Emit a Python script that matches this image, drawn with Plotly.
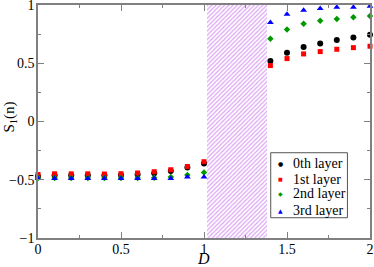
import plotly.graph_objects as go

x_left = [0.0, 0.1, 0.2, 0.3, 0.4, 0.5, 0.6, 0.7, 0.8, 0.9, 1.0]
x_right = [1.4, 1.5, 1.6, 1.7, 1.8, 1.9, 2.0]

layer0_left = [-0.47, -0.462, -0.462, -0.462, -0.462, -0.46, -0.455, -0.445, -0.425, -0.395, -0.36]
layer1_left = [-0.455, -0.449, -0.449, -0.449, -0.451, -0.448, -0.442, -0.431, -0.414, -0.386, -0.345]
layer2_left = [-0.485, -0.485, -0.485, -0.485, -0.485, -0.485, -0.484, -0.482, -0.476, -0.459, -0.437]
layer3_left = [-0.49, -0.49, -0.49, -0.49, -0.49, -0.49, -0.49, -0.49, -0.49, -0.476, -0.476]

layer0_right = [0.52, 0.59, 0.64, 0.67, 0.70, 0.72, 0.745]
layer1_right = [0.48, 0.54, 0.58, 0.60, 0.62, 0.634, 0.646]
layer2_right = [0.71, 0.79, 0.84, 0.865, 0.88, 0.895, 0.905]
layer3_right = [0.85, 0.92, 0.955, 0.97, 0.98, 0.98, 0.99]

names = ["0th layer", "1st layer", "2nd layer", "3rd layer"]
colors = ["#000000", "#ff0000", "#009a00", "#0000ff"]
symbols = ["circle", "square", "diamond", "triangle-up"]
sizes = [6, 5, 5, 6]
legend_glyphs = ["\u25cf", "\u25a0", "\u25c6", "\u25b2"]
legend_glyph_sizes = [6, 5, 6, 6]

hatch_start, hatch_end = 1.02, 1.38

fig = go.Figure()

fig.add_trace(go.Bar(
    x=[(hatch_start + hatch_end) / 2], y=[2], base=[-1],
    width=[hatch_end - hatch_start],
    marker=dict(color="white", line=dict(width=0),
                pattern=dict(shape="/", fgcolor="#b848e8", bgcolor="white",
                             size=3, solidity=0.4)),
    showlegend=False, hoverinfo="skip"))

lefts = [layer0_left, layer1_left, layer2_left, layer3_left]
rights = [layer0_right, layer1_right, layer2_right, layer3_right]
for i in range(4):
    fig.add_trace(go.Scatter(
        x=x_left + x_right, y=lefts[i] + rights[i], mode="markers",
        name=names[i], showlegend=False,
        marker=dict(color=colors[i], symbol=symbols[i], size=sizes[i],
                    line=dict(width=0)),
        cliponaxis=False))

serif = "Liberation Serif, Times New Roman, serif"
axis_common = dict(
    showline=True, linecolor="#808080", linewidth=1.5, mirror="allticks",
    ticks="inside", ticklen=6, tickwidth=1, tickcolor="#808080",
    showgrid=False, zeroline=False, automargin=False,
    ticklabeloverflow="allow",
    tickfont=dict(family=serif, size=14, color="black"),
)

fig.update_layout(
    width=374, height=267,
    margin=dict(l=38, r=4, t=5, b=29, autoexpand=False),
    paper_bgcolor="white", plot_bgcolor="white",
    font=dict(family=serif),
    xaxis=dict(range=[0, 2], tickvals=[0, 0.5, 1, 1.5, 2],
               ticktext=["0", "0.5", "1", "1.5", "2"],
               ticklabelstandoff=-3,
               minor=dict(ticks="inside", ticklen=3, dtick=0.25, tick0=0,
                          tickcolor="#808080", showgrid=False),
               **axis_common),
    yaxis=dict(range=[-1, 1], tickvals=[-1, -0.5, 0, 0.5, 1],
               ticktext=["\u22121", "\u22120.5", "0", "0.5", "1"],
               ticklabelstandoff=-1,
               minor=dict(ticks="inside", ticklen=3, dtick=0.25, tick0=0,
                          tickcolor="#808080", showgrid=False),
               **axis_common),
    showlegend=False,
    bargap=0,
)

# axis titles
fig.add_annotation(text="<i>D</i>", xref="paper", yref="paper", x=0.497, y=-0.088,
                   showarrow=False, xanchor="center", yanchor="middle",
                   font=dict(family=serif, size=16, color="black"))
fig.add_annotation(text="S<sub>1</sub>(n)", xref="paper", yref="paper", x=-0.085, y=0.52,
                   showarrow=False, xanchor="center", yanchor="middle", textangle=-90,
                   font=dict(family=serif, size=15, color="black"))

# legend box
lx0, lx1, ly0, ly1 = 0.701, 0.932, 0.087, 0.366
fig.add_shape(type="rect", xref="paper", yref="paper", x0=lx0, x1=lx1, y0=ly0, y1=ly1,
              line=dict(color="#555555", width=1), fillcolor="white", layer="above")
row_y = [0.318, 0.253, 0.189, 0.120]
for i in range(4):
    fig.add_annotation(text=legend_glyphs[i], xref="paper", yref="paper", x=0.729, y=row_y[i],
                       showarrow=False, xanchor="center", yanchor="middle",
                       font=dict(family="DejaVu Sans", size=legend_glyph_sizes[i], color=colors[i]))
    fig.add_annotation(text=names[i], xref="paper", yref="paper", x=0.763, y=row_y[i],
                       showarrow=False, xanchor="left", yanchor="middle",
                       font=dict(family=serif, size=14, color="black"))

fig.write_html("out.html", config={"displayModeBar": False},
               post_script="document.body.style.margin='0';document.body.style.padding='0';")
